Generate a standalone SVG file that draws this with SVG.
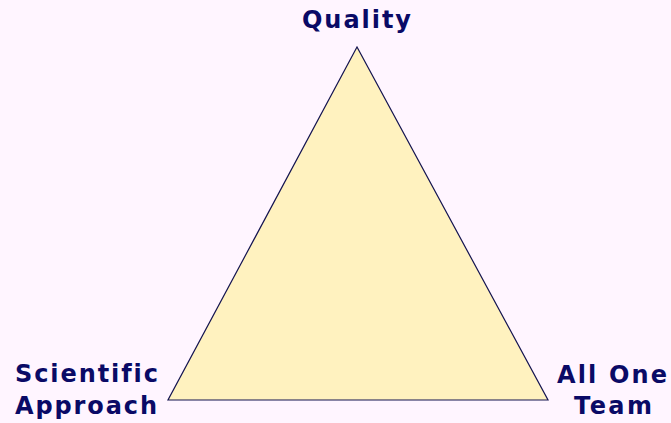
<svg xmlns="http://www.w3.org/2000/svg" width="671" height="423" viewBox="0 0 671 423">
<style>
.lbl{font-family:"DejaVu Sans","Verdana",sans-serif;font-weight:bold;font-size:24px;fill:#0a0a66;font-variant-ligatures:none;font-feature-settings:"liga" 0}
</style>
<rect x="0" y="0" width="671" height="423" fill="#fff5ff"/>
<g id="connectors"></g>
<g id="triangle">
<polygon points="357,47 168,400 548,400" fill="#fff2bf" stroke="#141450" stroke-width="1.2"/>
</g>
<g id="quality">
<text class="lbl" x="302" y="28" textLength="109" lengthAdjust="spacing">Quality</text>
</g>
<g id="scientific-approach">
<text class="lbl" x="15" y="382" textLength="143" lengthAdjust="spacing">Scientific</text>
<text class="lbl" x="15" y="414" textLength="142" lengthAdjust="spacing">Approach</text>
</g>
<g id="all-one-team">
<text class="lbl" x="557" y="383" textLength="110" lengthAdjust="spacing">All One</text>
<text class="lbl" x="574" y="414" textLength="78" lengthAdjust="spacing">Team</text>
</g>
</svg>
